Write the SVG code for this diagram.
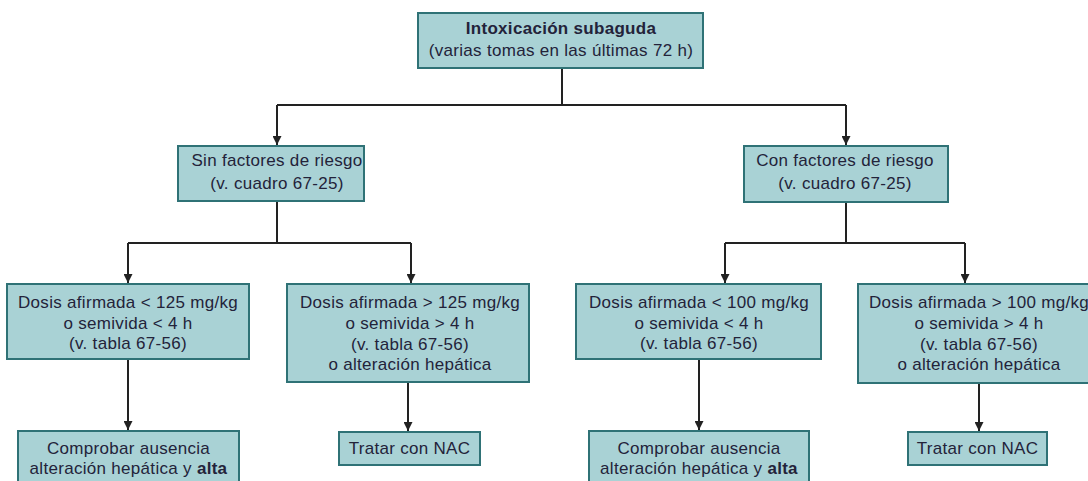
<svg xmlns="http://www.w3.org/2000/svg" width="1088" height="481" viewBox="0 0 1088 481">
<style>
.box{fill:#a9d2d5;stroke:#2f7276;stroke-width:2}
.t{font-family:"Liberation Sans",Arial,sans-serif;font-size:17px;letter-spacing:0.3px;fill:#23233a;text-anchor:middle}
.b{font-weight:bold}
.c{fill:none;stroke:#222;stroke-width:2}
</style>
<defs>
<marker id="ah" viewBox="0 0 10 10" refX="10" refY="5" markerWidth="9" markerHeight="9" markerUnits="userSpaceOnUse" orient="auto">
<path d="M0,0 L10,5 L0,10 z" fill="#222"/>
</marker>
</defs>
<rect width="1088" height="481" fill="#fff"/>
<g id="connectors">
<path class="c" d="M562,68 V105 M277,105 H846"/>
<path class="c" d="M277,105 V145" marker-end="url(#ah)"/>
<path class="c" d="M846,105 V145" marker-end="url(#ah)"/>
<path class="c" d="M277,201 V243 M128,243 H411"/>
<path class="c" d="M128,243 V283" marker-end="url(#ah)"/>
<path class="c" d="M411,243 V283" marker-end="url(#ah)"/>
<path class="c" d="M846,202 V243 M725,243 H965"/>
<path class="c" d="M725,243 V283" marker-end="url(#ah)"/>
<path class="c" d="M965,243 V283" marker-end="url(#ah)"/>
<path class="c" d="M128,359 V430" marker-end="url(#ah)"/>
<path class="c" d="M408,383 V431" marker-end="url(#ah)"/>
<path class="c" d="M699,359 V430" marker-end="url(#ah)"/>
<path class="c" d="M979,383 V431" marker-end="url(#ah)"/>
</g>
<g id="n-top">
<rect class="box" x="418" y="13" width="285" height="55"/>
<text class="t b" x="561" y="34">Intoxicación subaguda</text>
<text class="t" x="561" y="56">(varias tomas en las últimas 72 h)</text>
</g>
<g id="n-sin">
<rect class="box" x="178" y="146" width="186" height="55"/>
<text class="t" x="277" y="166">Sin factores de riesgo</text>
<text class="t" x="277" y="189">(v. cuadro 67-25)</text>
</g>
<g id="n-con">
<rect class="box" x="744" y="146" width="204" height="56"/>
<text class="t" x="845" y="166">Con factores de riesgo</text>
<text class="t" x="845" y="189">(v. cuadro 67-25)</text>
</g>
<g id="n-d1">
<rect class="box" x="7" y="284" width="242" height="75"/>
<text class="t" x="128" y="308">Dosis afirmada &lt; 125 mg/kg</text>
<text class="t" x="128" y="329">o semivida &lt; 4 h</text>
<text class="t" x="128" y="349">(v. tabla 67-56)</text>
</g>
<g id="n-d2">
<rect class="box" x="287" y="284" width="242" height="98"/>
<text class="t" x="410" y="308">Dosis afirmada &gt; 125 mg/kg</text>
<text class="t" x="410" y="329">o semivida &gt; 4 h</text>
<text class="t" x="410" y="350">(v. tabla 67-56)</text>
<text class="t" x="410" y="370">o alteración hepática</text>
</g>
<g id="n-d3">
<rect class="box" x="576" y="284" width="245" height="75"/>
<text class="t" x="699" y="308">Dosis afirmada &lt; 100 mg/kg</text>
<text class="t" x="699" y="329">o semivida &lt; 4 h</text>
<text class="t" x="699" y="349">(v. tabla 67-56)</text>
</g>
<g id="n-d4">
<rect class="box" x="858" y="284" width="242" height="99"/>
<text class="t" x="979" y="308">Dosis afirmada &gt; 100 mg/kg</text>
<text class="t" x="979" y="329">o semivida &gt; 4 h</text>
<text class="t" x="979" y="350">(v. tabla 67-56)</text>
<text class="t" x="979" y="370">o alteración hepática</text>
</g>
<g id="n-c1">
<rect class="box" x="18" y="431" width="221" height="70"/>
<text class="t" x="128.5" y="454">Comprobar ausencia</text>
<text class="t" x="128.5" y="474">alteración hepática y <tspan class="b">alta</tspan></text>
</g>
<g id="n-t1">
<rect class="box" x="339" y="432" width="141" height="33"/>
<text class="t" x="409.5" y="454">Tratar con NAC</text>
</g>
<g id="n-c2">
<rect class="box" x="589" y="431" width="220" height="70"/>
<text class="t" x="699" y="454">Comprobar ausencia</text>
<text class="t" x="699" y="474">alteración hepática y <tspan class="b">alta</tspan></text>
</g>
<g id="n-t2">
<rect class="box" x="908" y="432" width="139" height="33"/>
<text class="t" x="977.5" y="454">Tratar con NAC</text>
</g>
</svg>
